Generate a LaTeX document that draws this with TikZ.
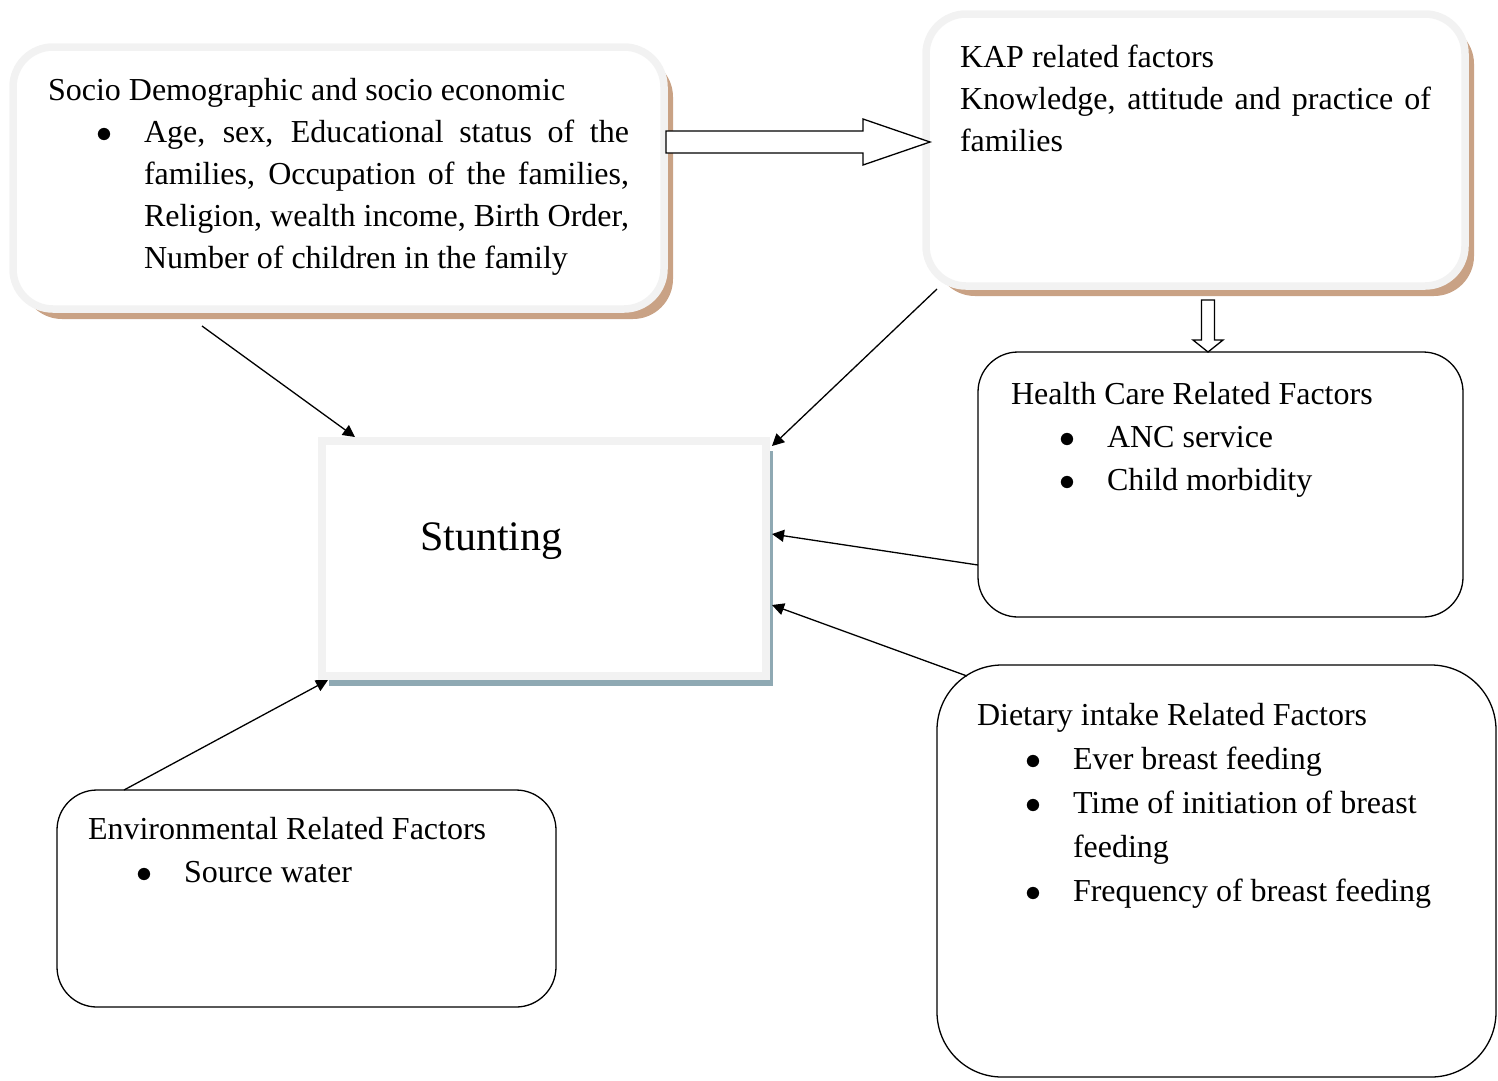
\documentclass[tikz,border=0pt]{standalone}
\usepackage{fix-cm}
\usepackage{fontspec}
\setmainfont{Liberation Serif}
\usetikzlibrary{positioning,arrows.meta,shadows}
\definecolor{mist}{HTML}{F2F2F2}
\definecolor{sand}{HTML}{C9A285}
\definecolor{slate}{HTML}{8FA9B3}
\newcommand\cardtext[3]{\parbox[t][#1][t]{#2}{\strut#3}}
\newenvironment{dotlist}{\begin{list}{$\bullet$}{\setlength{\leftmargin}{96pt}\setlength{\labelwidth}{20pt}%
  \setlength{\labelsep}{32pt}\setlength{\topsep}{0pt}\setlength{\partopsep}{0pt}%
  \setlength{\itemsep}{0pt}\setlength{\parsep}{0pt}}}{\end{list}}
\tikzset{
  glow/.style={rectangle,rounded corners=40pt,draw=mist,line width=7.5pt,fill=white,outer sep=0pt,
               anchor=north west,inner ysep=24pt,font=\fontsize{32}{42}\selectfont,
               drop shadow={shadow xshift=9pt,shadow yshift=-10pt,fill=sand,opacity=1}},
  factor/.style={rectangle,rounded corners=40pt,draw=black,line width=1.3pt,fill=white,outer sep=0pt,
                 anchor=north west,inner ysep=22pt,font=\fontsize{32}{43}\selectfont},
  core/.style={rectangle,draw=mist,line width=8pt,fill=white,outer sep=0pt,anchor=north west,
               font=\fontsize{42}{50}\selectfont,
               drop shadow={shadow xshift=7pt,shadow yshift=-10pt,fill=slate,opacity=1}},
  link/.style={-{Triangle[length=12pt,width=12pt]},line width=1.3pt},
  hollow/.style={draw=black,line width=1.3pt,fill=white}
}
\begin{document}
\begin{tikzpicture}[x=1pt,y=-1pt]
    \useasboundingbox (0,0) rectangle (1498,1080);
    \node[glow,inner xsep=35pt] (socio) at (13,47) {\cardtext{214pt}{581pt}{Socio Demographic and socio economic
      \begin{dotlist}\item Age, sex, Educational status of the\linebreak families, Occupation of the families,\linebreak
      Religion, wealth income, Birth Order,\linebreak Number of children in the family\end{dotlist}}};
    \node[glow,inner xsep=34pt] (kap) at (926,14) {\cardtext{224pt}{471pt}{KAP related factors\\
      Knowledge, attitude and practice of\linebreak families}};
    \node[core,inner xsep=98pt,inner ysep=74pt] (stunt) at (322,441) {\cardtext{87pt}{248pt}{Stunting}};
    \node[factor,inner xsep=33pt] (health) at (978,352) {\cardtext{221pt}{419pt}{\raggedright Health Care Related Factors
      \begin{dotlist}\item ANC service \item Child morbidity\end{dotlist}}};
    \node[factor,inner xsep=40pt,inner ysep=30pt,rounded corners=65pt,font=\fontsize{32}{44}\selectfont] (diet) at (937,665)
      {\cardtext{352pt}{479pt}{\raggedright Dietary intake Related Factors
      \begin{dotlist}\item Ever breast feeding \item Time of initiation of breast feeding \item Frequency of breast feeding\end{dotlist}}};
    \node[factor,inner xsep=31pt,inner ysep=19pt] (env) at (57,790) {\cardtext{179pt}{437pt}{\raggedright Environmental Related Factors
      \begin{dotlist}\item Source water\end{dotlist}}};
    \draw[link] ([shift={(189,17)}]socio.south west) -- ([shift={(33,-4)}]stunt.north west);
    \draw[link] ([shift={(11,3)}]kap.south west) -- ([shift={(6,5)}]stunt.north east);
    \draw[link] ([shift={(0,-52)}]health.south west) -- ([shift={(6,-24.5)}]stunt.east);
    \draw[link] ([shift={(30,11)}]diet.north west) -- ([shift={(6,46.5)}]stunt.east);
    \draw[link] ([shift={(67,0)}]env.north west) -- ([shift={(6,4)}]stunt.south west);
    \draw[hollow] ([shift={(2,-47)}]socio.east) -- ++(197,0) -- ++(0,-12) -- ++(67,23) -- ++(-67,23)
      -- ++(0,-12) -- ++(-197,0) -- cycle;
    \draw[hollow] ([shift={(-12.5,0)}]health.north) -- ++(15,-12) -- ++(-8.5,0) -- ++(0,-40) -- ++(-13,0)
      -- ++(0,40) -- ++(-8.5,0) -- cycle;
  \end{tikzpicture}
\end{document}
